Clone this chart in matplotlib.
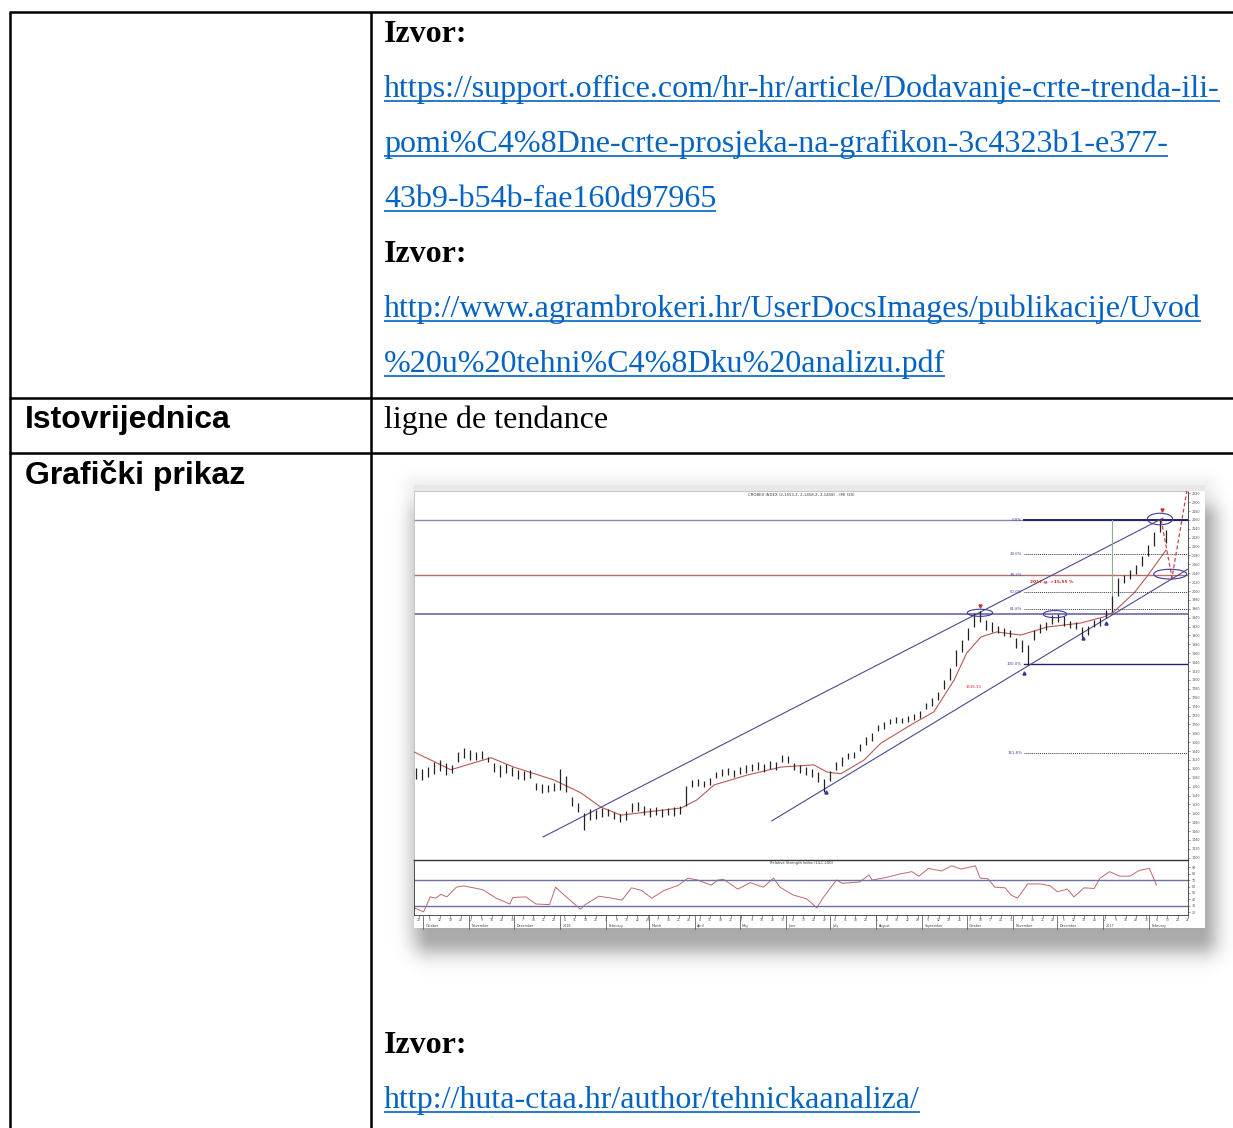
import numpy as np
import pandas as pd
import matplotlib
matplotlib.use("Agg")
import matplotlib.pyplot as plt
from matplotlib.patches import Ellipse, Rectangle
from matplotlib.transforms import blended_transform_factory

W, H = 1233, 1128

# ---------------- table content ----------------
SOURCE_1 = ["https://support.office.com/hr-hr/article/Dodavanje-crte-trenda-ili-",
            "pomi%C4%8Dne-crte-prosjeka-na-grafikon-3c4323b1-e377-",
            "43b9-b54b-fae160d97965"]
SOURCE_2 = ["http://www.agrambrokeri.hr/UserDocsImages/publikacije/Uvod",
            "%20u%20tehni%C4%8Dku%20analizu.pdf"]
SOURCE_3 = ["http://huta-ctaa.hr/author/tehnickaanaliza/"]
ROW_LABELS = ["Istovrijednica", "Grafički prikaz"]
EQUIVALENT = "ligne de tendance"

# ---------------- embedded chart data ----------------
BAR_HIGH = [1602, 1600, 1604, 1616, 1620, 1613, 1609, 1638, 1647, 1642,
            1638, 1640, 1627, 1613, 1609, 1611, 1604, 1597, 1595, 1597,
            1568, 1566, 1564, 1568, 1600, 1584, 1537, 1523, 1501, 1510,
            1507, 1512, 1510, 1503, 1498, 1505, 1523, 1525, 1516, 1512,
            1514, 1510, 1512, 1514, 1516, 1561, 1575, 1577, 1573, 1580,
            1593, 1600, 1602, 1597, 1604, 1609, 1611, 1616, 1611, 1618,
            1616, 1631, 1629, 1613, 1609, 1604, 1600, 1593, 1577, 1595,
            1616, 1627, 1636, 1638, 1656, 1672, 1681, 1699, 1706, 1712,
            1717, 1715, 1719, 1724, 1730, 1748, 1760, 1773, 1800, 1827,
            1868, 1890, 1917, 1951, 1955, 1935, 1931, 1922, 1917, 1913,
            1895, 1890, 1879, 1913, 1926, 1931, 1946, 1949, 1944, 1933,
            1931, 1919, 1922, 1935, 1940, 1958, 1989, 2030, 2036, 2048,
            2059, 2079, 2104, 2133, 2162, 2138]
BAR_LOW = [1577, 1575, 1582, 1588, 1595, 1586, 1591, 1616, 1625, 1620,
           1620, 1622, 1616, 1593, 1582, 1591, 1584, 1577, 1575, 1579,
           1552, 1546, 1548, 1550, 1552, 1548, 1516, 1503, 1462, 1485,
           1487, 1492, 1494, 1487, 1480, 1485, 1503, 1505, 1496, 1492,
           1496, 1492, 1496, 1494, 1498, 1516, 1559, 1561, 1559, 1564,
           1580, 1584, 1586, 1582, 1588, 1591, 1595, 1598, 1593, 1600,
           1598, 1616, 1613, 1598, 1591, 1586, 1582, 1571, 1548, 1573,
           1598, 1607, 1622, 1625, 1640, 1654, 1663, 1685, 1690, 1701,
           1703, 1703, 1706, 1710, 1715, 1735, 1742, 1755, 1780, 1800,
           1832, 1863, 1890, 1919, 1931, 1913, 1908, 1906, 1899, 1897,
           1872, 1863, 1834, 1890, 1906, 1913, 1926, 1931, 1922, 1917,
           1915, 1897, 1901, 1919, 1922, 1940, 1953, 1989, 2018, 2027,
           2039, 2057, 2079, 2102, 2133, 2108]

MA_X = [-0.3, 5.8, 12.5, 16.3, 23, 27.5, 30.8, 34.2, 38.5, 44.2, 46.8, 49.7,
        55.2, 60.8, 66.3, 68.5, 70.8, 74.7, 77.5, 83, 86.3, 89.7, 91.8, 94.2,
        96.8, 100.8, 105.2, 110.8, 114.7, 116.3, 119.7, 121.8, 124.2, 125]
MA_Y = [1638, 1598, 1625, 1604, 1575, 1546, 1514, 1496, 1503, 1512, 1530, 1564,
        1586, 1604, 1609, 1593, 1589, 1620, 1658, 1703, 1728, 1800, 1861, 1897,
        1908, 1901, 1919, 1928, 1942, 1953, 1996, 2032, 2077, 2092]

RSI_X = [-0.3, 1.3, 2.4, 3.3, 4.2, 5.2, 6.8, 8, 9.7, 11.3, 13.5, 15.8, 16.3,
         18.5, 20.2, 22.5, 23.5, 24.7, 26.3, 27.7, 28.5, 30.8, 33, 34.7, 36.3,
         38, 39.7, 41.8, 44.2, 45.8, 47.5, 49.7, 50.8, 51.8, 54.2, 56.3, 58.5,
         60.2, 61.3, 63.5, 65.8, 67.5, 68.5, 70.8, 71.8, 74.7, 76.3, 76.8,
         79.2, 81.3, 83.5, 84.7, 86.3, 88.5, 90.2, 91.8, 94.2, 95, 96.3, 97.5,
         99.2, 100.2, 101.3, 103, 105.2, 106.8, 108, 109.7, 110.8, 112.5,
         114.2, 115.2, 116.8, 118.5, 120.2, 121.8, 123.5, 124.7]
RSI_Y = [27, 21, 44, 42, 48, 44, 59, 61, 58, 55, 42, 33, 43,
         44, 33, 32, 59, 49, 36, 25, 32, 45, 42, 39, 58,
         54, 42, 54, 62, 73, 70, 62, 70, 71, 56, 66, 59,
         73, 59, 47, 41, 27, 42, 70, 65, 67, 78, 70,
         74, 79, 83, 76, 88, 84, 92, 87, 92, 73, 72, 59,
         58, 47, 42, 64, 64, 61, 52, 56, 44, 58,
         57, 73, 83, 76, 76, 85, 88, 62]

FIB_TOP, FIB_BOTTOM = 2160, 1836
FIB_PCT = [0.0, 23.6, 38.2, 50.0, 61.8, 100.0, 161.8]
LEVELS = [2160, 2036, 1948]          # long horizontal support/resistance lines
UPPER_CHANNEL = ([21.2, 124.5], [1447, 2164])
LOWER_CHANNEL = ([59.3, 129.0], [1483, 2052])
PROJECTION = ([124.2, 126.0, 128.5, 130.5], [2160, 2030, 2227, 2300])
HIGH_MARKS = ([94.0, 124.3], [1966, 2182])
LOW_MARKS = ([68.3, 101.3, 111.2, 115.0], [1548, 1816, 1894, 1928])
ELLIPSES = [(94.0, 1951, 4.2, 16), (106.5, 1948, 3.9, 16),
            (124.0, 2162, 4.2, 26), (125.7, 2038, 5.5, 22)]
MONTH_LABELS = ["October", "November", "December", "2016", "February", "March",
                "April", "May", "June", "July", "August", "September", "October",
                "November", "December", "2017", "February"]

SERIF = "Liberation Serif"
SANS = "Liberation Sans"
LINK = "#0563C1"
FS = 23.0

fig = plt.figure(figsize=(W / 100, H / 100), dpi=100)
page = fig.add_axes([0, 0, 1, 1])
page.axis("off")


def px_axes(x0, y0, x1, y1):
    return fig.add_axes([x0 / W, 1 - y1 / H, (x1 - x0) / W, (y1 - y0) / H])


# drop shadow round the pasted picture
gx, gy = np.meshgrid(np.arange(380, 1233), np.arange(440, 1010))


def soft(x0, x1, y0, y1, sigma, a):
    dx = np.maximum(np.maximum(x0 - gx, gx - x1), 0)
    dy = np.maximum(np.maximum(y0 - gy, gy - y1), 0)
    return a * np.exp(-(dx ** 2 + dy ** 2) / (2 * sigma ** 2))


a1 = soft(430, 1200, 520, 938, 13, 0.5)
a2 = soft(414, 1205, 485, 928, 8, 0.08)
alpha = 1 - (1 - a1) * (1 - a2)
rgba = np.zeros(gx.shape + (4,))
rgba[..., :3] = 0.38
rgba[..., 3] = alpha
page.imshow(rgba, extent=(380, 1233, 1010, 440), aspect="auto", zorder=0)
page.add_patch(Rectangle((414, 485), 791, 443, facecolor="white", edgecolor="none", zorder=1))
page.add_patch(Rectangle((414, 485), 791, 6, facecolor="#e8e8e8", edgecolor="none", zorder=1))
page.set_xlim(0, W)
page.set_ylim(H, 0)

# table grid
lw = 1.8
page.plot([9, W], [12, 12], color="black", lw=lw, solid_capstyle="butt")
page.plot([10, 10], [12, H], color="black", lw=lw, solid_capstyle="butt")
page.plot([371, 371], [12, H], color="black", lw=lw, solid_capstyle="butt")
for yl in (398, 453):
    page.plot([9, W], [yl, yl], color="black", lw=lw, solid_capstyle="butt")

links = []


def izvor(y):
    page.text(384, y, "Izvor:", family=SERIF, weight="bold", fontsize=FS, va="baseline")


def link(y, s):
    links.append(page.text(384, y, s, family=SERIF, fontsize=FS, color=LINK, va="baseline"))


izvor(42)
for k, s in enumerate(SOURCE_1):
    link(97 + 55 * k, s)
izvor(262)
for k, s in enumerate(SOURCE_2):
    link(317 + 55 * k, s)
page.text(25, 428, ROW_LABELS[0], family=SANS, weight="bold", fontsize=FS, va="baseline")
page.text(384, 428, EQUIVALENT, family=SERIF, fontsize=FS, va="baseline")
page.text(25, 484, ROW_LABELS[1], family=SANS, weight="bold", fontsize=FS, va="baseline")
izvor(1053)
for s in SOURCE_3:
    link(1108, s)

# ---------------- price panel ----------------
ax = px_axes(414, 491, 1188, 860)
ax.set_xlim(-0.33, 128.67)
ax.set_ylim(1395, 2225)
x = np.arange(len(BAR_HIGH))
ax.vlines(x, BAR_LOW, BAR_HIGH, color="#222222", lw=0.9, zorder=4)
ax.plot(MA_X, MA_Y, color="#b85a55", lw=0.8, zorder=3)

ax.axhline(LEVELS[0], color="#8a8ab0", lw=1.0, zorder=2)
ax.axhline(LEVELS[1], color="#b07070", lw=1.0, zorder=2)
ax.axhline(LEVELS[2], color="#6a6aa8", lw=1.2, zorder=2)

for p in FIB_PCT:
    lvl = FIB_TOP - p / 100 * (FIB_TOP - FIB_BOTTOM)
    if p in (0.0, 100.0):
        ax.plot([101.3, 129], [lvl, lvl], color="#22226e", lw=1.4 if p == 0 else 1.0, zorder=3)
    elif p != 38.2:
        ax.plot([101.3, 129], [lvl, lvl], color="#333355", lw=0.7, ls=(0, (1, 1)), zorder=3)
    ax.text(101.0, lvl, f"{p:.1f}%", fontsize=2.8, color="#4444aa", ha="right", va="center", zorder=5)

ax.plot(*UPPER_CHANNEL, color="#4a4a90", lw=0.8, zorder=3)
ax.plot(*LOWER_CHANNEL, color="#4a4a90", lw=0.8, zorder=3)
ax.plot([116, 116], [1980, 2160], color="#8fb08f", lw=0.8, zorder=3)
ax.plot(*PROJECTION, color="#cc4444", lw=0.9, ls=(0, (3, 2)), zorder=5)
for cx, cy, ew, eh in ELLIPSES:
    ax.add_patch(Ellipse((cx, cy), ew, eh, facecolor="none", edgecolor="#3a3aa0", lw=0.8, zorder=6))
ax.plot(*HIGH_MARKS, ls="none", marker="v", ms=2.2, color="#cc3333", zorder=6)
ax.plot(*LOW_MARKS, ls="none", marker="^", ms=2.2, color="#3333aa", zorder=6)
ax.text(106.0, 2020, "2017.g. +15,55 %", fontsize=3.2, color="#cc2222", weight="bold",
        ha="center", va="center", zorder=6)
ax.text(93.0, 1785, "1536.33", fontsize=2.8, color="#cc2222", ha="center", va="center", zorder=6)
ax.text(0.5, 0.995, "CROBEX INDEX (2,1553.2, 2,1458.2, 2,1458) - (M) (30)", transform=ax.transAxes,
        fontsize=2.8, color="#333333", ha="center", va="top")

ax.yaxis.tick_right()
ax.set_yticks(np.arange(1400, 2221, 20))
ax.tick_params(axis="y", labelsize=2.4, length=1.5, width=0.4, pad=1, colors="#555555")
ax.set_xticks([])
for side, sp in ax.spines.items():
    sp.set_linewidth(0.6)
    sp.set_color("#bbbbbb" if side in ("left", "top") else "#333333")

# ---------------- RSI panel ----------------
rx = px_axes(414, 860, 1188, 915)
rx.set_xlim(-0.33, 128.67)
rx.set_ylim(16, 101)
rx.plot(RSI_X, RSI_Y, color="#c06a6a", lw=0.7)
rx.axhline(70, color="#7070a0", lw=1.0)
rx.axhline(30, color="#7070a0", lw=1.0)
rx.text(0.5, 0.98, "Relative Strength Index (14,C,100)", transform=rx.transAxes,
        fontsize=2.6, color="#333333", ha="center", va="top")
rx.yaxis.tick_right()
rx.set_yticks(range(20, 91, 10))
rx.tick_params(axis="y", labelsize=2.4, length=1.5, width=0.4, pad=1, colors="#555555")

origin = pd.Timestamp("2015-09-26")
weeks = pd.date_range("2015-09-28", "2017-02-27", freq="W-MON")
rx.set_xticks([(d - origin).days / 4 for d in weeks])
rx.set_xticklabels([str(d.day) for d in weeks])
rx.tick_params(axis="x", labelsize=2.2, length=2, width=0.4, pad=0.5, colors="#444444")
months = pd.date_range("2015-10-01", "2017-02-01", freq="MS")
tr = blended_transform_factory(rx.transData, rx.transAxes)
for d, lab in zip(months, MONTH_LABELS):
    mx = (d - origin).days / 4
    rx.plot([mx, mx], [-0.26, -0.02], transform=tr, color="#444444", lw=0.5, clip_on=False)
    rx.text(mx + 0.4, -0.2, lab, transform=tr, fontsize=2.4, color="#444444", ha="left", va="center")
for sp in rx.spines.values():
    sp.set_linewidth(0.6)
    sp.set_color("#333333")
rx.spines["top"].set_linewidth(1.0)

# underline the hyperlinks
fig.canvas.draw()
rend = fig.canvas.get_renderer()
inv = page.transData.inverted()
for t in links:
    bb = t.get_window_extent(rend)
    (lx0, _), (lx1, _) = inv.transform([(bb.x0, bb.y0), (bb.x1, bb.y0)])
    yb = t.get_position()[1] + 3.5
    page.plot([lx0, lx1], [yb, yb], color=LINK, lw=1.2, solid_capstyle="butt")

fig.savefig("out.png", dpi=100)
